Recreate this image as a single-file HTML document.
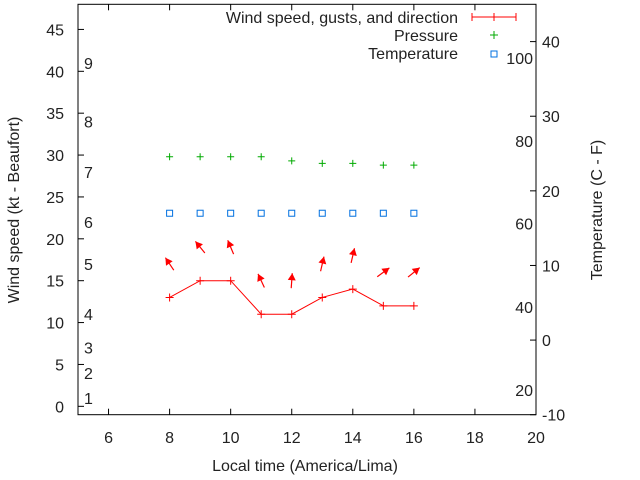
<!DOCTYPE html>
<html><head><meta charset="utf-8"><style>
body{margin:0;background:#fff}
svg{display:block;font-family:"Liberation Sans",sans-serif}
</style></head><body>
<svg id="chart" width="640" height="480" viewBox="0 0 640 480" xmlns="http://www.w3.org/2000/svg">
<rect width="640" height="480" fill="#fff"/>
<g id="g"></g>
</svg>
<script>
const hours=[8,9,10,11,12,13,14,15,16];
const windKt=[13,15,15,11,11,13,14,12,12];
const windHeading=[-34,-39,-23,-25,4,13,13,54,51];
const pressure=[29.8,29.8,29.8,29.8,29.3,29.0,29.0,28.8,28.8];
const tempC=[17,17,17,17,17,17,17,17,17];
const xTicks=[6,8,10,12,14,16,18,20];
const yTicks=[0,5,10,15,20,25,30,35,40,45];
const y2Ticks=[-10,0,10,20,30,40];
const beaufortLabels=[[1,1],[2,4],[3,7],[4,11],[5,17],[6,22],[7,28],[8,34],[9,41]];
const fahrLabels=[[20,-6.7],[40,4.4],[60,15.6],[80,26.7],[100,37.8]];

const L=78,R=536,T=4.3,B=414.7;
const X=v=>L+(v-5)/15*(R-L);
const Y=v=>B-(v+1)/49*(B-T);
const Y2=v=>B-(v+10)/55*(B-T);
const g=document.getElementById('g');
const NS='http://www.w3.org/2000/svg';
function mk(tag,attrs,name,txt){const e=document.createElementNS(NS,tag);for(const k in attrs)e.setAttribute(k,attrs[k]);


if(txt!==undefined)e.textContent=txt;g.appendChild(e);return e;}
const txtS={fill:'#222','font-size':'16'};
function text(x,y,s,anchor,name,extra){return mk('text',Object.assign({x:x,y:y,'text-anchor':anchor},txtS,extra||{}),name,s);}

mk('rect',{x:L,y:T,width:R-L,height:B-T,fill:'none',stroke:'#000','stroke-width':1},'plot-frame');
xTicks.forEach(t=>{const x=X(t);
mk('line',{x1:x,y1:B,x2:x,y2:B-6,stroke:'#000'},'x-tick');
mk('line',{x1:x,y1:T,x2:x,y2:T+6,stroke:'#000'},'x-tick-top');
text(x,443,String(t),'middle','x-tick-label');});
yTicks.forEach(t=>{const y=Y(t);
mk('line',{x1:L,y1:y,x2:L+6,y2:y,stroke:'#000'},'y-tick');
text(64,y+6,String(t),'end','y-tick-label');});
y2Ticks.forEach(t=>{const y=Y2(t);
mk('line',{x1:R,y1:y,x2:R-6,y2:y,stroke:'#000'},'y2-tick');
text(542,y+6,String(t),'start','y2-tick-label');});
beaufortLabels.forEach(([s,v])=>text(84,Y(v)+6,String(s),'start','beaufort-label'));
fahrLabels.forEach(([s,v])=>text(533,Y2(v)+6,String(s),'end','fahrenheit-label'));

text(305,471,'Local time (America/Lima)','middle','x-axis-title');
text(0,0,'Wind speed (kt - Beaufort)','middle','y-axis-title',{transform:'translate(19,210) rotate(-90)'});
text(0,0,'Temperature (C - F)','middle','y2-axis-title',{transform:'translate(602,210) rotate(-90)'});

mk('polyline',{points:hours.map((h,i)=>X(h)+','+Y(windKt[i])).join(' '),fill:'none',stroke:'#f00','stroke-width':1},'wind-line');
hours.forEach((h,i)=>{const x=X(h),y=Y(windKt[i]);
mk('path',{d:`M${x-4},${y}H${x+4}M${x},${y-4}V${y+4}`,stroke:'#f00'},'wind-point');});
hours.forEach((h,i)=>{const cx=X(h),cy=Y(windKt[i]+4),a=windHeading[i]*Math.PI/180,len=15;
const dx=Math.sin(a),dy=-Math.cos(a);
const hx=cx+dx*len/2,hy=cy+dy*len/2,tx=cx-dx*len/2,ty=cy-dy*len/2;
const px=-dy,py=dx;
mk('line',{x1:tx,y1:ty,x2:hx,y2:hy,stroke:'#f00','stroke-width':1.2},'wind-direction-arrow');
mk('polygon',{points:`${hx},${hy} ${hx-dx*7+px*4},${hy-dy*7+py*4} ${hx-dx*7-px*4},${hy-dy*7-py*4}`,fill:'#f00'},'wind-arrow-head');});
hours.forEach((h,i)=>{const x=X(h),y=Y(pressure[i]);
mk('path',{d:`M${x-3.5},${y}H${x+3.5}M${x},${y-3.5}V${y+3.5}`,stroke:'#0a0'},'pressure-point');});
hours.forEach((h,i)=>{const x=X(h),y=Y2(tempC[i]);
mk('rect',{x:x-3,y:y-3,width:6,height:6,fill:'none',stroke:'#0070e0'},'temperature-point');});
text(458,23,'Wind speed, gusts, and direction','end','legend-wind-label');
mk('path',{d:'M472,17H516M472,13V21M494,13V21M516,13V21',stroke:'#f00'},'legend-wind-sample');
text(458,41,'Pressure','end','legend-pressure-label');
mk('path',{d:'M490,35H498M494,31V39',stroke:'#0a0'},'legend-pressure-sample');
text(458,59,'Temperature','end','legend-temperature-label');
mk('rect',{x:491,y:51,width:6,height:6,fill:'none',stroke:'#0070e0'},'legend-temperature-sample');
</script>
</body></html>
